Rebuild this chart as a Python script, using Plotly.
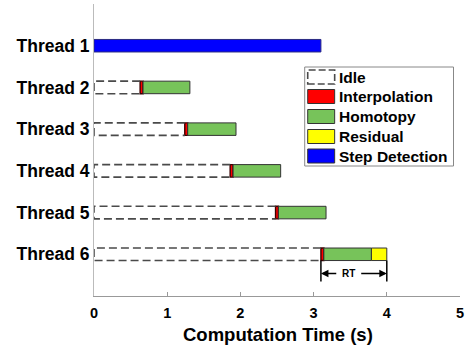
import plotly.graph_objects as go

# ---- data ----
threads = ["Thread 1", "Thread 2", "Thread 3", "Thread 4", "Thread 5", "Thread 6"]
idle = [0.00, 0.63, 1.24, 1.86, 2.48, 3.10]
interpolation = [0.00, 0.04, 0.04, 0.04, 0.04, 0.04]
homotopy = [0.00, 0.64, 0.66, 0.65, 0.65, 0.65]
residual = [0.00, 0.00, 0.00, 0.00, 0.00, 0.21]
step_detection = [3.10, 0.00, 0.00, 0.00, 0.00, 0.00]
xticks = [0, 1, 2, 3, 4, 5]
rt_start, rt_end = 3.10, 4.00

segments = [
    ("Interpolation", interpolation, "#FF0000", "#3a0000", 1.4),
    ("Homotopy", homotopy, "#77C35A", "#333333", 1),
    ("Residual", residual, "#FFFF00", "#333333", 1),
    ("Step Detection", step_detection, "#0000FF", "#2a2a80", 1),
]

W, H = 469, 350
L, R, T, B = 94, 8.5, 4, 54
PW, PH = W - L - R, H - T - B
FONT = "Liberation Sans, Arial, sans-serif"
BW = 0.3

def xp(px):
    return (px - L) / PW

def yp(py):
    return 1 - (py - T) / PH

ypos = list(range(1, len(threads) + 1))
fig = go.Figure()

# idle dashed boxes
for yi, d in zip(ypos, idle):
    if d > 0:
        fig.add_trace(go.Scatter(
            x=[d, 0, 0, d], y=[yi - BW / 2, yi - BW / 2, yi + BW / 2, yi + BW / 2],
            mode="lines", line=dict(color="#4a4a4a", width=1.6, dash="8px,4px"),
            showlegend=False, hoverinfo="skip"))

# stacked segments
base = list(idle)
for name, vals, col, edge, ew in segments:
    xs, ys, bs = [], [], []
    for i, v in enumerate(vals):
        if v > 0:
            xs.append(v); ys.append(ypos[i]); bs.append(base[i])
        base[i] += v
    fig.add_trace(go.Bar(
        x=xs, y=ys, base=bs, orientation="h", width=BW, name=name,
        marker=dict(color=col, line=dict(color=edge, width=ew)),
        showlegend=False))

# RT annotation
y6 = ypos[-1]
for xv in (rt_start, rt_end):
    fig.add_shape(type="line", xref="x", yref="y", x0=xv, x1=xv,
                  y0=y6 + BW / 2, y1=y6 + 0.65, line=dict(color="black", width=1.5))
ya = y6 + 0.46
fig.add_annotation(x=rt_start, y=ya, ax=3.33, ay=ya, xref="x", yref="y", axref="x", ayref="y",
                   text="", showarrow=True, arrowhead=2, arrowsize=1, arrowwidth=1.5, arrowcolor="black")
fig.add_annotation(x=rt_end, y=ya, ax=3.63, ay=ya, xref="x", yref="y", axref="x", ayref="y",
                   text="", showarrow=True, arrowhead=2, arrowsize=1, arrowwidth=1.5, arrowcolor="black")
fig.add_annotation(x=3.48, y=ya, xref="x", yref="y", text="RT", showarrow=False,
                   font=dict(family=FONT, size=10, color="black", weight="bold"))

# manual legend
fig.add_shape(type="rect", xref="paper", yref="paper", x0=xp(305), x1=xp(454),
              y0=yp(166), y1=yp(67), line=dict(color="#888888", width=1), fillcolor="white")
legend_items = [("Idle", None)] + [(s[0], s[2]) for s in segments]
rows = [77, 96.5, 116.5, 136.5, 156]
for (name, col), ry in zip(legend_items, rows):
    if col is None:
        fig.add_shape(type="rect", xref="paper", yref="paper", x0=xp(308), x1=xp(335),
                      y0=yp(ry + 7), y1=yp(ry - 7),
                      line=dict(color="#4a4a4a", width=1.6, dash="7px,3px"))
    else:
        fig.add_shape(type="rect", xref="paper", yref="paper", x0=xp(308), x1=xp(335),
                      y0=yp(ry + 7), y1=yp(ry - 7), fillcolor=col,
                      line=dict(color="#333333", width=1))
    fig.add_annotation(x=xp(337), y=yp(ry), xref="paper", yref="paper", text=name,
                       showarrow=False, xanchor="left", yanchor="middle",
                       font=dict(family=FONT, size=15.5, color="black", weight="bold"))

# x-axis title as paper annotation (positioned like reference)
fig.add_annotation(x=xp(278), y=yp(334), xref="paper", yref="paper", text="Computation Time (s)",
                   showarrow=False, xanchor="center", yanchor="middle",
                   font=dict(family=FONT, size=18.5, color="black", weight="bold"))

fig.update_layout(
    width=W, height=H, margin=dict(l=L, r=R, t=T, b=B),
    paper_bgcolor="white", plot_bgcolor="white", barmode="overlay",
    showlegend=False, font=dict(family=FONT, color="black"),
)
fig.update_xaxes(range=[0, 5], tickvals=xticks, showline=True, linecolor="#999999", linewidth=1,
                 ticks="inside", ticklen=4, tickcolor="#999999", showgrid=False, zeroline=False,
                 tickfont=dict(family=FONT, size=14.5, color="black", weight="bold"),
                 ticklabelstandoff=4)
fig.update_yaxes(range=[7, 0], tickvals=ypos, ticktext=threads, showline=True, linecolor="#BBBBBB",
                 linewidth=1, ticks="", showgrid=False, zeroline=False,
                 tickfont=dict(family=FONT, size=17.5, color="black", weight="bold"))

fig.write_html("out.html")
